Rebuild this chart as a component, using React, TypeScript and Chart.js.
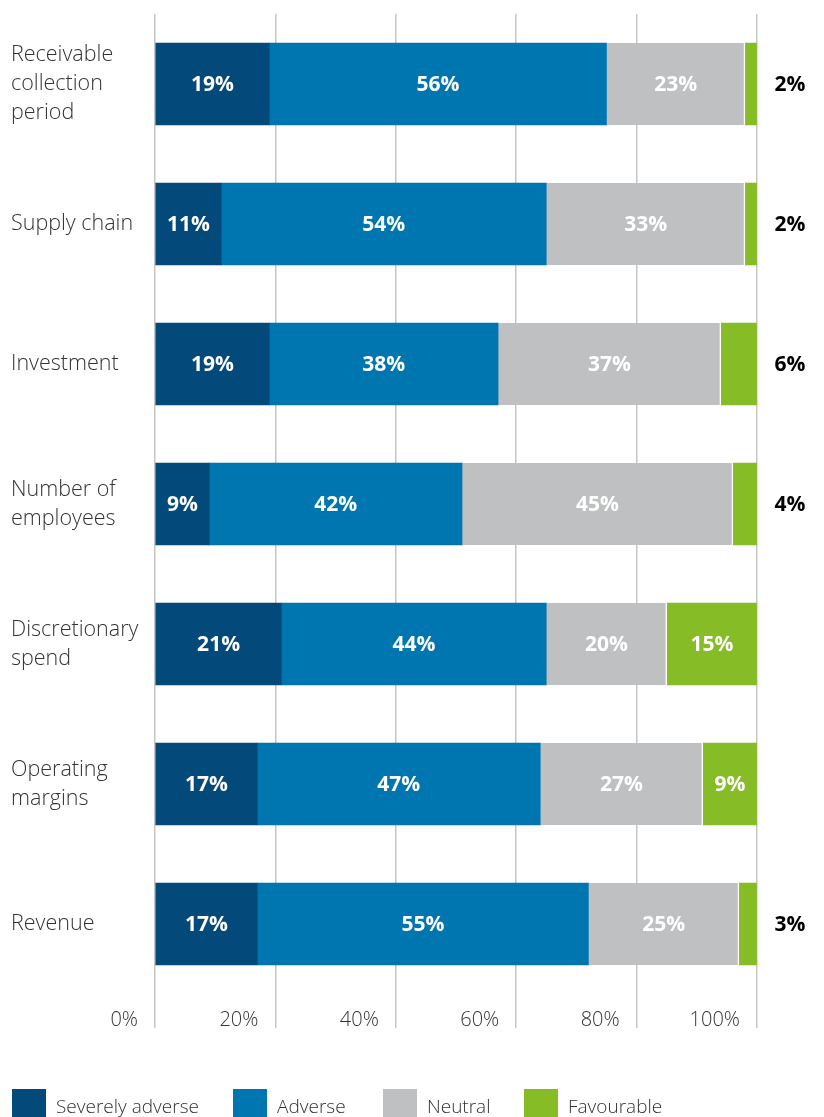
import React, { useEffect, useRef } from "react";
import { Chart, registerables } from "chart.js";

Chart.register(...registerables);

const categoryLabels: string[][] = [
  ["Receivable", "collection", "period"],
  ["Supply chain"],
  ["Investment"],
  ["Number of", "employees"],
  ["Discretionary", "spend"],
  ["Operating", "margins"],
  ["Revenue"],
];
const severelyAdverse = [19, 11, 19, 9, 21, 17, 17];
const adverse = [56, 54, 38, 42, 44, 47, 55];
const neutral = [23, 33, 37, 45, 20, 27, 25];
const favourable = [2, 2, 6, 4, 15, 9, 3];
const tickValues = [0, 20, 40, 60, 80, 100];
const tickLabels = ["0%", "20%", "40%", "60%", "80%", "100%"];
const seriesNames = ["Severely adverse", "Adverse", "Neutral", "Favourable"];
const seriesColors = ["#03497A", "#0076B1", "#BFC0C2", "#86BC25"];

const FONT = "'Open Sans', 'Noto Sans', sans-serif";

const overlayPlugin = {
  id: "overlay",
  afterDatasetsDraw(chart: any) {
    const ctx = chart.ctx;
    ctx.save();
    ctx.font = `700 21px ${FONT}`;
    ctx.textBaseline = "middle";
    ctx.textAlign = "center";
    chart.data.datasets.forEach((ds: any, di: number) => {
      const meta = chart.getDatasetMeta(di);
      meta.data.forEach((el: any, i: number) => {
        const v = ds.data[i];
        const { x, base, y } = el.getProps(["x", "base", "y"], true);
        const label = `${v}%`;
        if (di === 3 && v < 8) {
          ctx.fillStyle = "#000000";
          ctx.fillText(label, 790, y + 1);
        } else {
          ctx.fillStyle = "#FFFFFF";
          ctx.fillText(label, (x + base) / 2, y + 1);
        }
      });
    });
    ctx.restore();
  },
  afterDraw(chart: any) {
    const ctx = chart.ctx;
    const xs = chart.scales.x;
    ctx.save();
    ctx.font = `300 20px ${FONT}`;
    ctx.fillStyle = "#333333";
    ctx.textBaseline = "middle";
    ctx.textAlign = "right";
    tickValues.forEach((v, i) => {
      ctx.fillText(tickLabels[i], xs.getPixelForValue(v) - 17, 1020);
    });
    // legend
    const legendX = [12, 233, 383, 524];
    ctx.font = `300 19px ${FONT}`;
    ctx.textAlign = "left";
    seriesNames.forEach((name, i) => {
      ctx.fillStyle = seriesColors[i];
      ctx.fillRect(legendX[i], 1089, 34, 34);
      ctx.fillStyle = "#333333";
      ctx.fillText(name, legendX[i] + 44, 1108);
    });
    ctx.restore();
  },
};

export default function App() {
  const ref = useRef<HTMLCanvasElement>(null);
  useEffect(() => {
    if (!ref.current) return;
    const chart = new Chart(ref.current, {
      type: "bar",
      data: {
        labels: categoryLabels as any,
        datasets: [
          { label: seriesNames[0], data: severelyAdverse, backgroundColor: seriesColors[0], borderWidth: 0 },
          { label: seriesNames[1], data: adverse, backgroundColor: seriesColors[1], borderWidth: 0 },
          {
            label: seriesNames[2],
            data: neutral,
            backgroundColor: seriesColors[2],
            borderColor: "#FFFFFF",
            borderWidth: { left: 0, right: 1.5, top: 0, bottom: 0 } as any,
            borderSkipped: false,
          },
          { label: seriesNames[3], data: favourable, backgroundColor: seriesColors[3], borderWidth: 0 },
        ],
      },
      options: {
        indexAxis: "y",
        animation: false,
        responsive: false,
        maintainAspectRatio: false,
        devicePixelRatio: 1,
        layout: { padding: { left: 11, right: 67, top: 14, bottom: 89 } },
        datasets: { bar: { barThickness: 82 } } as any,
        plugins: { legend: { display: false }, tooltip: { enabled: false } },
        scales: {
          x: {
            stacked: true,
            min: 0,
            max: 100,
            position: "bottom",
            afterFit: (s: any) => {
              s.height = 34;
              s.paddingLeft = 0;
              s.paddingRight = 0;
            },
            grid: { color: "#C6C6C6", lineWidth: 1.5, drawTicks: true, tickLength: 34 },
            border: { display: false },
            ticks: { display: false, stepSize: 20 },
          },
          y: {
            stacked: true,
            afterFit: (s: any) => {
              s.width = 144;
              s.paddingTop = 0;
              s.paddingBottom = 0;
            },
            grid: { display: false },
            border: { display: false },
            ticks: {
              crossAlign: "far",
              color: "#333333",
              font: { family: FONT, size: 21.5, weight: 300 as any, lineHeight: 1.35 },
            },
          },
        },
      },
      plugins: [overlayPlugin],
    });
    return () => chart.destroy();
  }, []);
  return (
    <div style={{ position: "absolute", left: 0, top: 0, width: 824, height: 1117, overflow: "hidden" }}>
      <canvas ref={ref} width={824} height={1117} style={{ width: 824, height: 1117, display: "block" }} />
    </div>
  );
}
